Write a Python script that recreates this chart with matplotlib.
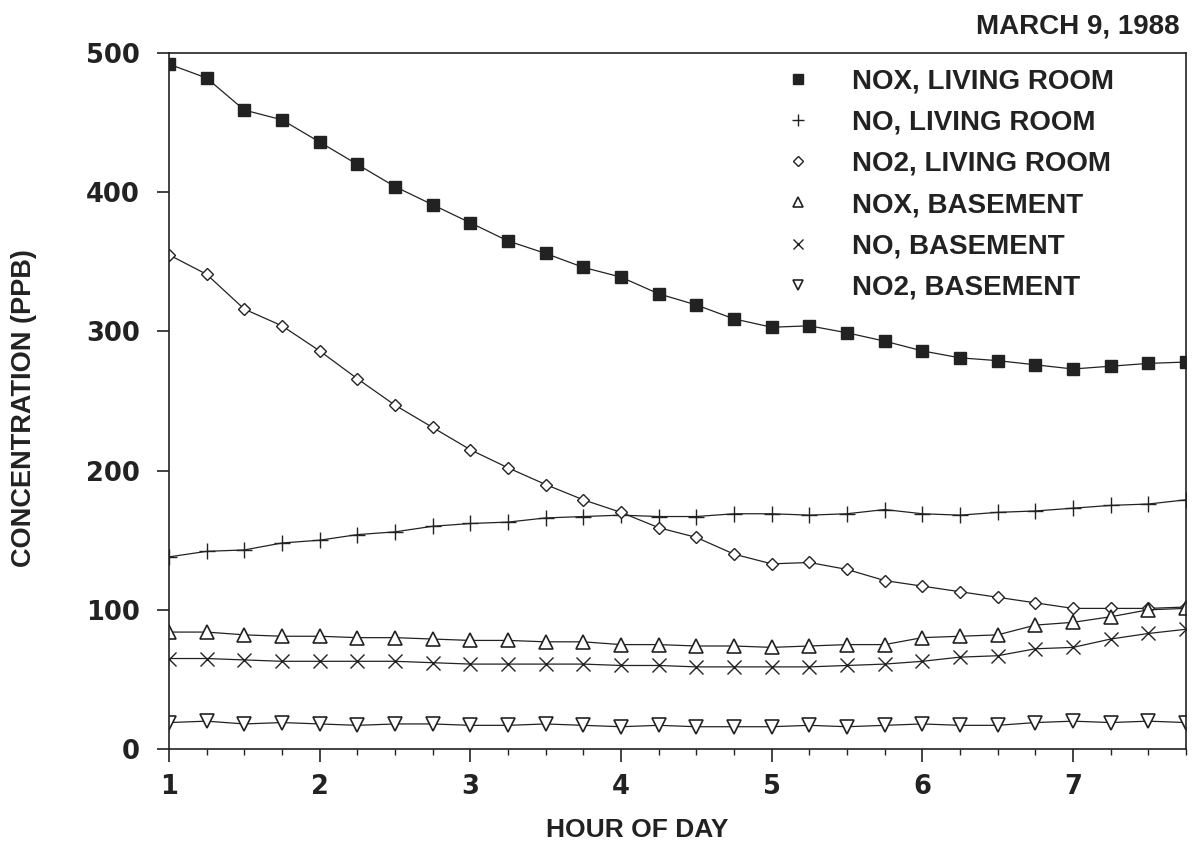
import matplotlib
matplotlib.use("Agg")
import matplotlib.pyplot as plt
from matplotlib.ticker import MultipleLocator

plt.rcParams['font.family'] = ['Liberation Sans', 'DejaVu Sans']
plt.rcParams['font.weight'] = 'bold'

# hour of day (every quarter hour)
hours = [1.0, 1.25, 1.5, 1.75, 2.0, 2.25, 2.5, 2.75, 3.0, 3.25, 3.5, 3.75, 4.0, 4.25,
         4.5, 4.75, 5.0, 5.25, 5.5, 5.75, 6.0, 6.25, 6.5, 6.75, 7.0, 7.25, 7.5, 7.75]

# concentrations (ppb)
nox_living = [492, 482, 459, 452, 436, 420, 404, 391, 378, 365, 356, 346, 339, 327,
              319, 309, 303, 304, 299, 293, 286, 281, 279, 276, 273, 275, 277, 278]
no_living = [138, 142, 143, 148, 150, 154, 156, 160, 162, 163, 166, 167, 168, 167,
             167, 169, 169, 168, 169, 172, 169, 168, 170, 171, 173, 175, 176, 179]
no2_living = [355, 341, 316, 304, 286, 266, 247, 231, 215, 202, 190, 179, 170, 159,
              152, 140, 133, 134, 129, 121, 117, 113, 109, 105, 101, 101, 101, 102]
nox_base = [84, 84, 82, 81, 81, 80, 80, 79, 78, 78, 77, 77, 75, 75,
            74, 74, 73, 74, 75, 75, 80, 81, 82, 89, 91, 95, 100, 101]
no_base = [65, 65, 64, 63, 63, 63, 63, 62, 61, 61, 61, 61, 60, 60,
           59, 59, 59, 59, 60, 61, 63, 66, 67, 72, 73, 79, 83, 86]
no2_base = [19, 20, 18, 19, 18, 17, 18, 18, 17, 17, 18, 17, 16, 17,
            16, 16, 16, 17, 16, 17, 18, 17, 17, 19, 20, 19, 20, 19]

labels = ['NOX, LIVING ROOM', 'NO, LIVING ROOM', 'NO2, LIVING ROOM',
          'NOX, BASEMENT', 'NO, BASEMENT', 'NO2, BASEMENT']

ink = '#222222'

fig = plt.figure(figsize=(11.92, 8.43), dpi=100)
ax = fig.add_axes([169 / 1192, 94 / 843, 1017 / 1192, 696 / 843])

lw = 0.9
handles = []
h, = ax.plot(hours, nox_living, color=ink, lw=lw, marker='s', ms=8.5,
             mfc=ink, mec=ink, label=labels[0])
handles.append(h)
h, = ax.plot(hours, no_living, color=ink, lw=lw, marker='+', ms=11,
             mew=1.0, label=labels[1])
handles.append(h)
h, = ax.plot(hours, no2_living, color=ink, lw=lw, marker='D', ms=6.5,
             mfc='white', mec=ink, mew=1.0, label=labels[2])
handles.append(h)
h, = ax.plot(hours, nox_base, color=ink, lw=lw, marker='^', ms=9.5,
             mfc='white', mec=ink, mew=1.2, label=labels[3])
handles.append(h)
h, = ax.plot(hours, no_base, color=ink, lw=lw, marker='x', ms=9.5,
             mew=1.0, label=labels[4])
handles.append(h)
h, = ax.plot(hours, no2_base, color=ink, lw=lw, marker='v', ms=9.5,
             mfc='white', mec=ink, mew=1.2, label=labels[5])
handles.append(h)

ax.set_xlim(1, 7.75)
ax.set_ylim(0, 500)
ax.xaxis.set_major_locator(MultipleLocator(1))
ax.xaxis.set_minor_locator(MultipleLocator(0.25))
ax.yaxis.set_major_locator(MultipleLocator(100))

for sp in ax.spines.values():
    sp.set_color(ink)
    sp.set_linewidth(1.2)

ax.tick_params(axis='x', which='major', direction='out', length=9, width=1.2,
               pad=9, colors=ink)
ax.tick_params(axis='x', which='minor', direction='out', length=4, width=1.0, colors=ink)
ax.tick_params(axis='y', which='major', direction='out', length=9, width=1.2,
               pad=12, colors=ink)
# the printed digits are wide, DejaVu bold gets their width right
for lab in ax.get_xticklabels() + ax.get_yticklabels():
    lab.set_fontfamily('DejaVu Sans')
    lab.set_fontsize(18.5)

leg = ax.legend(handles=handles, loc='upper left', bbox_to_anchor=(0.605, 0.978),
                frameon=False, fontsize=20, handlelength=1.0, handletextpad=1.45,
                labelspacing=0.55, borderpad=0, borderaxespad=0, markerscale=0.8,
                numpoints=1)
for lh in leg.legend_handles:
    lh.set_linestyle('none')
for t in leg.get_texts():
    t.set_color(ink)

fig.text(1180 / 1192, 1 - 27 / 843, 'MARCH 9, 1988', ha='right', va='center',
         fontsize=20, color=ink)
fig.text(637 / 1192, 1 - 830 / 843, 'HOUR OF DAY', ha='center', va='center',
         fontsize=19, color=ink)
fig.text(24 / 1192, 1 - 408 / 843, 'CONCENTRATION (PPB)', ha='center', va='center',
         rotation=90, fontsize=19.5, color=ink)

fig.savefig('out.png', dpi=100, facecolor='white')
